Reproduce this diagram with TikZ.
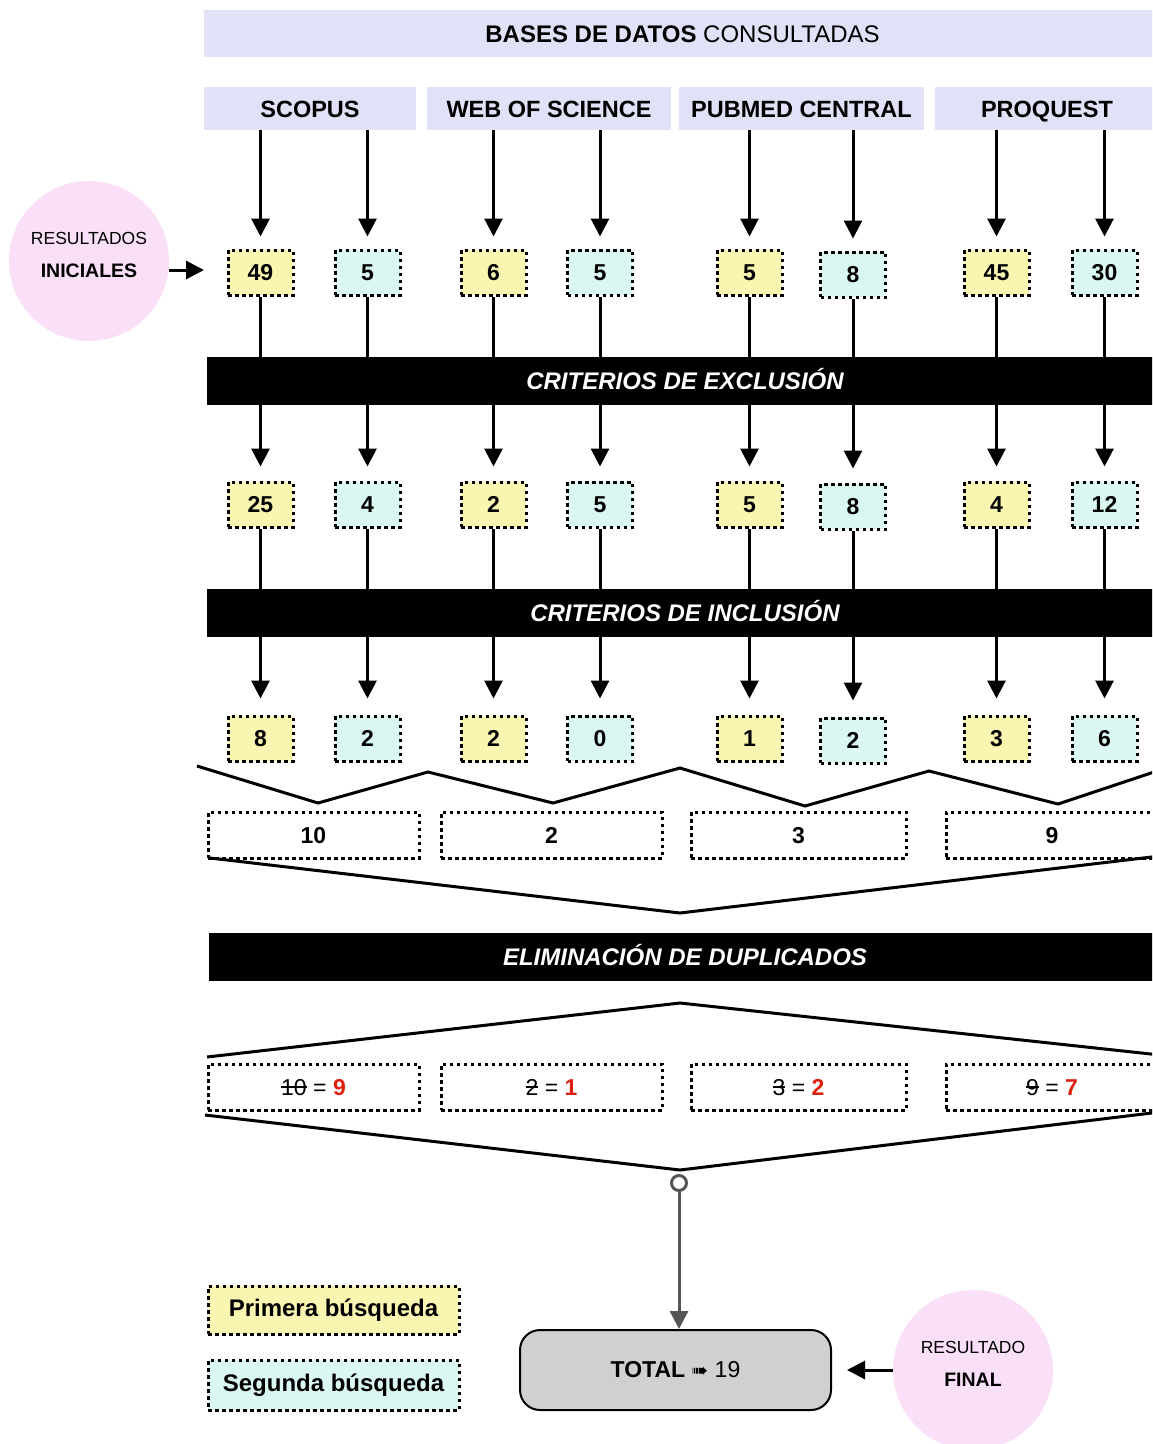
\documentclass[tikz,border=0pt]{standalone}
\usepackage{fontspec}
\setmainfont{Liberation Sans}
\newfontfamily\djv{DejaVu Sans}
\usetikzlibrary{arrows.meta}
\definecolor{lav}{HTML}{E1E1F8}
\definecolor{yel}{HTML}{FAF6B2}
\definecolor{tea}{HTML}{DAF7F2}
\definecolor{pnk}{HTML}{F9E0F8}
\definecolor{rd}{HTML}{E0200F}
\definecolor{gry}{HTML}{D0D0D0}
\definecolor{dk}{HTML}{555555}
\newlength\strkw
\newcommand\strk[1]{\settowidth{\strkw}{#1}\rlap{#1}\rule[0.33em]{\strkw}{0.07em}}
\begin{document}
\begin{tikzpicture}[x=1pt,y=-1pt,
  bar/.style={fill=lav, inner sep=0, minimum height=43, text height=17, text depth=0, font=\fontsize{23.5}{28}\selectfont\bfseries},
  blk/.style={fill=black, text=white, inner sep=0, minimum height=48, minimum width=956, text height=17, text depth=0, font=\fontsize{24}{28}\selectfont\bfseries\itshape},
  dotbox/.style={draw=black, line width=3, dash pattern=on 3.5 off 3.5, inner sep=0},
  nb/.style={dotbox, minimum width=65, minimum height=45, text height=16.5, text depth=0, font=\fontsize{23}{27}\selectfont\bfseries},
  wb/.style={dotbox, fill=white, minimum height=46, text height=16.5, text depth=0, font=\fontsize{23}{27}\selectfont},
  arr/.style={line width=3, -{Triangle[width=18pt,length=18pt]}},
  ln/.style={line width=3},
  bub/.style={circle, fill=pnk, minimum size=160, inner sep=0, align=center, text depth=12, font=\fontsize{17.5}{32}\selectfont}
]
\useasboundingbox (0,0) rectangle (1152,1444);
\clip (0,0) rectangle (1152,1444);

% header
\node[bar, minimum width=957, minimum height=47, font=\fontsize{24}{28}\selectfont] (hdr) at (682.5,33.5) {\textbf{BASES DE DATOS} CONSULTADAS};
\node[bar, minimum width=212] (scopus) at (310,108.5) {SCOPUS};
\node[bar, minimum width=244] (wos) at (549,108.5) {WEB OF SCIENCE};
\node[bar, minimum width=245] (pub) at (801.5,108.5) {PUBMED CENTRAL};
\node[bar, minimum width=224] (pro) at (1047,108.5) {PROQUEST};

% black bars
\node[blk] (excl) at (685,381) {CRITERIOS DE EXCLUSIÓN};
\node[blk] (incl) at (685,613) {CRITERIOS DE INCLUSIÓN};
\node[blk, minimum width=952] (elim) at (685,957) {ELIMINACIÓN DE DUPLICADOS};

% number boxes and connectors
\foreach \i/\x/\c/\dy/\db/\a/\b/\d in {
  1/260.5/yel/0/scopus/49/25/8, 2/367.5/tea/0/scopus/5/4/2,
  3/493.5/yel/0/wos/6/2/2, 4/600/tea/0/wos/5/5/0,
  5/749.5/yel/0/pub/5/5/1, 6/853/tea/2/pub/8/8/2,
  7/996.5/yel/0/pro/45/4/3, 8/1104.5/tea/0/pro/30/12/6} {
  \node[nb, fill=\c] (ra\i) at (\x,272.5+\dy) {\a};
  \node[nb, fill=\c] (rb\i) at (\x,504.5+\dy) {\b};
  \node[nb, fill=\c] (rc\i) at (\x,738.5+\dy) {\d};
  \draw[arr, shorten >=12pt] (ra\i.north |- \db.south) -- (ra\i.north);
  \draw[ln] (ra\i.south) -- (ra\i.south |- excl.north);
  \draw[arr, shorten >=14pt] (ra\i.south |- excl.south) -- (rb\i.north);
  \draw[ln] (rb\i.south) -- (rb\i.south |- incl.north);
  \draw[arr, shorten >=16pt] (rb\i.south |- incl.south) -- (rc\i.north);
}

% zigzag
\draw[ln, line join=miter] (197,766) -- (318,803) -- (428,772) -- (553,803) -- (680,768) -- (805,806) -- (929,771) -- (1058,804) -- (1160,770);

% combined boxes
\node[wb, minimum width=211] (sa) at (313.5,835) {\textbf{10}};
\node[wb, minimum width=221] (sb) at (551.5,835) {\textbf{2}};
\node[wb, minimum width=215] (sc) at (798.5,835) {\textbf{3}};
\node[wb, minimum width=212] (sd) at (1052,835) {\textbf{9}};

% funnel 1
\draw[ln, line join=miter] (210,858) -- (680,913) -- (1160,856);

% funnel 2
\draw[ln, line join=miter] (207,1057) -- (680,1003) -- (1160,1055);
\node[wb, minimum width=211] (da) at (313.5,1087) {\strk{10} = \textcolor{rd}{\textbf{9}}};
\node[wb, minimum width=221] (db) at (551.5,1087) {\strk{2} = \textcolor{rd}{\textbf{1}}};
\node[wb, minimum width=215] (dc) at (798.5,1087) {\strk{3} = \textcolor{rd}{\textbf{2}}};
\node[wb, minimum width=212] (dd) at (1052,1087) {\strk{9} = \textcolor{rd}{\textbf{7}}};
\draw[ln, line join=miter] (205,1115) -- (680,1170) -- (1160,1112);

% total
\node[circle, draw=dk, line width=3, fill=white, minimum size=15, inner sep=0] (dot) at (679,1183) {};
\node[draw=black, line width=2, fill=gry, rounded corners=20, minimum width=311, minimum height=80, font=\fontsize{23}{27}\selectfont] (tot) at (675.5,1370) {\textbf{TOTAL} {\djv\fontsize{20}{24}\selectfont ➠} 19};
\draw[line width=3, -{Triangle[width=18pt,length=18pt]}, color=dk] (dot.south) -- (dot.south |- tot.north);

% bubbles
\node[bub] (ini) at (89,261) {RESULTADOS\\[1pt]{\fontsize{19.5}{32}\selectfont\bfseries INICIALES}};
\coordinate (initip) at (204,270);
\draw[arr] (ini.east |- initip) -- (initip);
\node[bub] (fin) at (973,1370) {RESULTADO\\[1pt]{\fontsize{19.5}{32}\selectfont\bfseries FINAL}};
\draw[arr, shorten >=15pt] (fin.west) -- (tot.east);

% legend
\node[dotbox, fill=yel, minimum width=251, minimum height=48, font=\fontsize{24}{28}\selectfont\bfseries] (lg1) at (333.5,1310) {Primera búsqueda};
\node[dotbox, fill=tea, minimum width=251, minimum height=50, font=\fontsize{24}{28}\selectfont\bfseries] (lg2) at (333.5,1385) {Segunda búsqueda};
\end{tikzpicture}
\end{document}
